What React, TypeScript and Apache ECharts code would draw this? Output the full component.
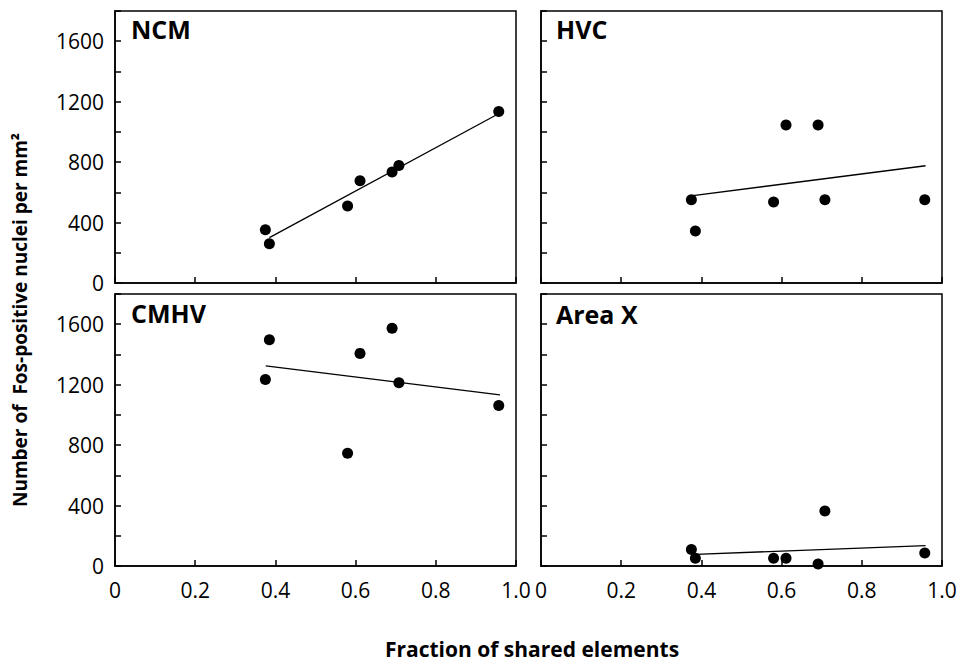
import React, { useEffect, useRef } from "react";
import * as echarts from "echarts";

const panelNames = ["NCM", "HVC", "CMHV", "Area X"];
const sharedFraction = [0.375, 0.385, 0.58, 0.611, 0.691, 0.708, 0.957];
const ncmValues = [353, 260, 509, 677, 734, 778, 1135];
const hvcValues = [551, 344, 536, 1045, 1045, 551, 551];
const cmhvValues = [1234, 1497, 746, 1407, 1574, 1212, 1062];
const areaXValues = [109, 51, 51, 51, 13, 364, 86];

const ncmFitX = [0.385, 0.953];
const ncmFitY = [300, 1115];
const hvcFitX = [0.379, 0.959];
const hvcFitY = [578, 776];
const cmhvFitX = [0.376, 0.96];
const cmhvFitY = [1325, 1132];
const areaXFitX = [0.385, 0.959];
const areaXFitY = [77, 135];

const yTickLabels = [0, 400, 800, 1200, 1600];
const xTickLabels = [0, 0.2, 0.4, 0.6, 0.8, 1.0];

const yTitle = "Number of  Fos-positive nuclei per mm\u00B2";
const xTitle = "Fraction of shared elements";

const FONT = "Open Sans";

export default function App() {
  const ref = useRef<HTMLDivElement>(null);
  useEffect(() => {
    if (!ref.current) return;
    const chart = echarts.init(ref.current, null, { renderer: "svg" });
    const values = [ncmValues, hvcValues, cmhvValues, areaXValues];
    const fitsX = [ncmFitX, hvcFitX, cmhvFitX, areaXFitX];
    const fitsY = [ncmFitY, hvcFitY, cmhvFitY, areaXFitY];
    const grids = [
      { left: 115, top: 11, width: 401, height: 272 },
      { left: 541, top: 11, width: 401, height: 272 },
      { left: 115, top: 294, width: 401, height: 272 },
      { left: 541, top: 294, width: 401, height: 272 },
    ].map((g) => ({ ...g, show: true, borderColor: "#000", borderWidth: 1.5, backgroundColor: "transparent" }));

    const xAxis = grids.map((_, i) => ({
      type: "value",
      gridIndex: i,
      min: 0,
      max: 1,
      interval: 0.2,
      splitLine: { show: false },
      axisLine: { show: true, lineStyle: { color: "#000", width: 1.5 } },
      axisTick: { show: true, inside: true, length: 6, lineStyle: { color: "#000", width: 1.5 } },
      axisLabel: {
        show: i >= 2,
        margin: 13,
        color: "#000",
        fontFamily: FONT,
        fontSize: 21,
        showMinLabel: true,
        showMaxLabel: true,
        formatter: (v: number) => {
          const hit = xTickLabels.find((t) => Math.abs(t - v) < 1e-6);
          if (hit === undefined) return "";
          return hit === 0 ? "0" : hit.toFixed(1);
        },
      },
    }));

    const yAxis = grids.map((_, i) => ({
      type: "value",
      gridIndex: i,
      min: 0,
      max: 1800,
      interval: 200,
      splitLine: { show: false },
      axisLine: { show: true, lineStyle: { color: "#000", width: 1.5 } },
      axisTick: { show: true, inside: true, length: 6, lineStyle: { color: "#000", width: 1.5 } },
      axisLabel: {
        show: i % 2 === 0,
        margin: 11,
        color: "#000",
        fontFamily: FONT,
        fontSize: 21,
        formatter: (v: number) => (yTickLabels.includes(v) ? String(v) : ""),
      },
    }));

    const series: any[] = [];
    values.forEach((vals, i) => {
      series.push({
        type: "scatter",
        xAxisIndex: i,
        yAxisIndex: i,
        symbol: "circle",
        symbolSize: 11,
        itemStyle: { color: "#000", opacity: 1 },
        data: sharedFraction.map((x, k) => [x, vals[k]]),
        z: 3,
      });
      series.push({
        type: "line",
        xAxisIndex: i,
        yAxisIndex: i,
        symbol: "none",
        lineStyle: { color: "#000", width: 1.3 },
        data: fitsX[i].map((x, k) => [x, fitsY[i][k]]),
        z: 2,
      });
    });

    const labelPos = [
      [131, 29],
      [556, 29],
      [131, 313],
      [556, 314],
    ];

    const graphic: any[] = panelNames.map((name, i) => ({
      type: "text",
      x: labelPos[i][0],
      y: labelPos[i][1],
      style: {
        text: name,
        fontFamily: FONT,
        fontWeight: "bold",
        fontSize: 25,
        fill: "#000",
        textAlign: "left",
        textVerticalAlign: "middle",
      },
    }));
    graphic.push({
      type: "text",
      x: 20,
      y: 320,
      rotation: Math.PI / 2,
      style: {
        text: yTitle,
        fontFamily: FONT,
        fontWeight: "bold",
        fontSize: 19,
        fill: "#000",
        textAlign: "center",
        textVerticalAlign: "middle",
      },
    });
    graphic.push({
      type: "text",
      x: 532,
      y: 649,
      style: {
        text: xTitle,
        fontFamily: FONT,
        fontWeight: "bold",
        fontSize: 21,
        fill: "#000",
        textAlign: "center",
        textVerticalAlign: "middle",
      },
    });

    chart.setOption({
      animation: false,
      backgroundColor: "#fff",
      grid: grids,
      xAxis,
      yAxis,
      series,
      graphic,
    });
    return () => chart.dispose();
  }, []);
  return (
    <div
      ref={ref}
      style={{ position: "absolute", left: 0, top: 0, width: 961, height: 665 }}
    />
  );
}
